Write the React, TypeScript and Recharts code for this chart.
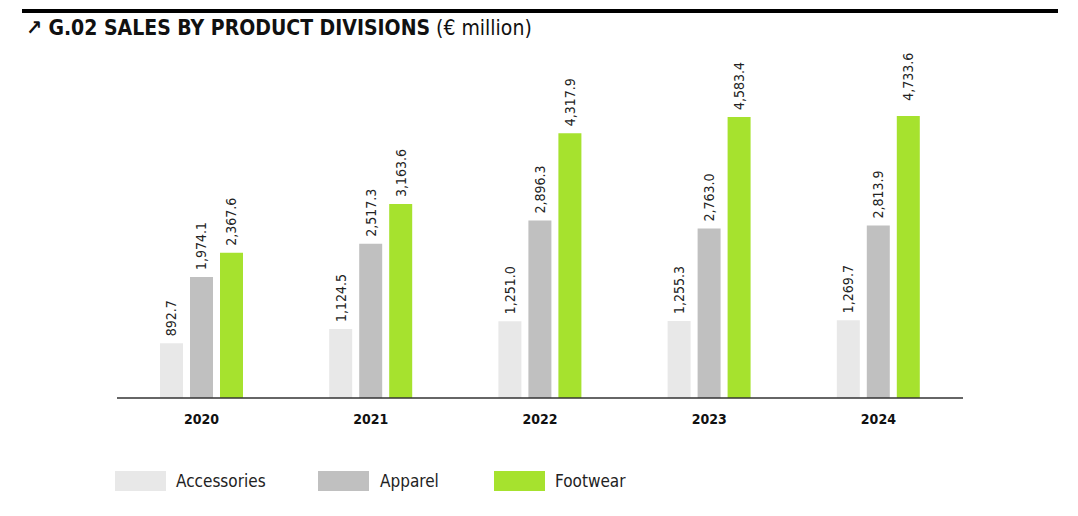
import React from "react";
import { BarChart, Bar, XAxis, YAxis, LabelList } from "recharts";

const years = ["2020", "2021", "2022", "2023", "2024"];
const accessories = [892.7, 1124.5, 1251.0, 1255.3, 1269.7];
const apparel = [1974.1, 2517.3, 2896.3, 2763.0, 2813.9];
const footwear = [2367.6, 3163.6, 4317.9, 4583.4, 4733.6];

const data = years.map((y, i) => ({
  year: y,
  Accessories: accessories[i],
  Apparel: apparel[i],
  Footwear: footwear[i],
}));

const colors = { Accessories: "#e8e8e8", Apparel: "#c0c0c0", Footwear: "#a6e22e" };
const font = "'DejaVu Sans Condensed', 'DejaVu Sans', sans-serif";

const fmt = (v: number) =>
  v.toLocaleString("en-US", { minimumFractionDigits: 1, maximumFractionDigits: 1 });

const VLabel = (props: any) => {
  const { x, y, width, value } = props;
  const cx = x + width / 2;
  const cy = y - 7;
  return (
    <text
      x={cx}
      y={cy}
      transform={`rotate(-90, ${cx}, ${cy})`}
      textAnchor="start"
      dominantBaseline="central"
      fontSize={14}
      fontFamily={font}
      fill="#222"
    >
      {fmt(value)}
    </text>
  );
};

const YearTick = (props: any) => {
  const { x, y, payload } = props;
  return (
    <text x={x} y={y + 18} textAnchor="middle" fontSize={14} fontWeight="bold" fontFamily={font} fill="#111">
      {payload.value}
    </text>
  );
};

const legend = [
  { key: "Accessories", x: 115, tx: 176 },
  { key: "Apparel", x: 318, tx: 380 },
  { key: "Footwear", x: 494, tx: 555 },
];

export default function App() {
  return (
    <div style={{ position: "absolute", left: 0, top: 0, width: 1078, height: 516, background: "#fff", fontFamily: font }}>
      <div style={{ position: "absolute", left: 22, top: 9, width: 1036, height: 4, background: "#000" }} />
      <div style={{ position: "absolute", left: 26, top: 16, fontSize: 21, color: "#111", whiteSpace: "nowrap" }}>
        <span style={{ fontWeight: "bold" }}>↗ G.02 SALES BY PRODUCT DIVISIONS</span>{" "}
        <span>(€ million)</span>
      </div>
      <div style={{ position: "absolute", left: 0, top: 0 }}>
        <BarChart
          width={1078}
          height={516}
          data={data}
          margin={{ top: 116, right: 115, bottom: 88, left: 117 }}
          barCategoryGap={42}
          barGap={7}
        >
          <YAxis hide domain={[0, 4600]} allowDataOverflow />
          <XAxis
            dataKey="year"
            height={30}
            tickLine={false}
            axisLine={{ stroke: "#333", strokeWidth: 1.5 }}
            tick={<YearTick />}
            interval={0}
          />
          {(["Accessories", "Apparel", "Footwear"] as const).map((k) => (
            <Bar key={k} dataKey={k} fill={colors[k]} barSize={23} isAnimationActive={false}>
              <LabelList dataKey={k} content={<VLabel />} />
            </Bar>
          ))}
        </BarChart>
      </div>
      {legend.map((l) => (
        <React.Fragment key={l.key}>
          <div
            style={{
              position: "absolute",
              left: l.x,
              top: 471,
              width: 51,
              height: 20,
              background: colors[l.key as keyof typeof colors],
            }}
          />
          <div style={{ position: "absolute", left: l.tx, top: 471, fontSize: 17, color: "#222" }}>{l.key}</div>
        </React.Fragment>
      ))}
    </div>
  );
}
